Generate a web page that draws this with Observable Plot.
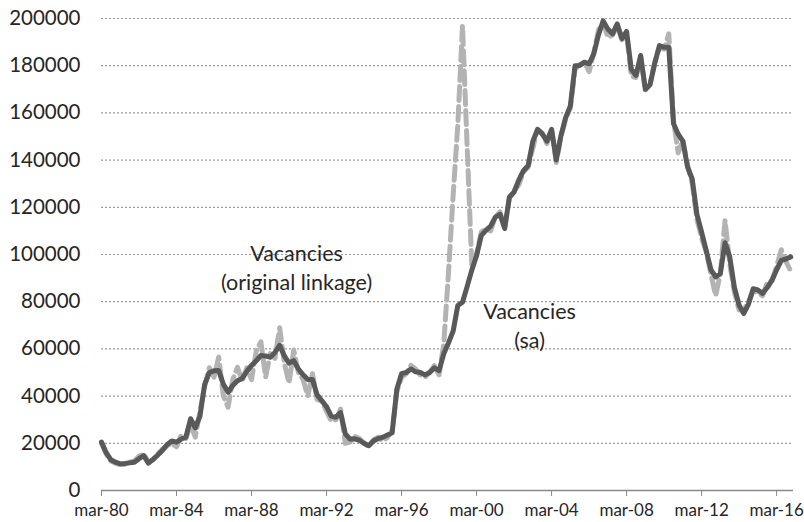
<!DOCTYPE html>
<html><head><meta charset="utf-8">
<script src="https://cdn.jsdelivr.net/npm/d3@7"></script>
<script src="https://cdn.jsdelivr.net/npm/@observablehq/plot@0.6"></script>
<style>
body{margin:0;background:#fff;}
#chart{width:804px;height:522px;overflow:hidden;}
</style>
</head><body><div id="chart"></div>
<script>
// Quarterly observations, starting March 1980 (index 0) through Dec 2016
const vacanciesSA = [
  20500,16000,13000,12000,11300,11400,11700,12000,13500,14800,
  11600,13200,15000,17000,19500,21000,20500,21800,22600,30400,
  26500,31500,45000,50000,50700,50800,45000,41600,44500,46500,
  47500,50500,53000,55000,57200,57000,56500,58500,61500,57000,
  54000,55000,51500,49000,47000,47000,40500,38000,35500,31500,
  31000,33000,24000,21800,21900,21300,20000,19000,21000,22000,
  22600,23500,24500,43000,49500,50000,51500,50300,50000,49000,
  50000,52000,50800,57900,62500,67500,78400,79800,86500,93500,
  99500,108000,110200,112000,115800,117000,111000,124300,126500,131500,
  135500,137700,148000,153000,151100,148000,153000,140000,150400,158000,
  163000,180000,180100,181500,180800,185000,193000,199000,195500,193500,
  197700,191500,194500,178500,175900,184300,170000,172000,181000,188500,
  187800,187800,155500,151000,148000,137000,132000,117000,109500,101500,
  93500,90500,92000,105000,99000,86000,78500,75000,79000,85500,
  85000,83500,86000,89000,93500,97500,98100,99000
];
const vacanciesOriginal = [
  20000,15500,12500,11500,11000,11000,12000,12500,14500,15500,
  12000,13000,15500,17500,19000,20000,18500,23500,22000,28000,
  22600,33500,44000,52000,48000,56500,40000,35300,47000,52200,
  46600,52000,47000,59000,63000,48000,58000,56000,69000,54000,
  45500,59500,50000,47000,40000,49500,38500,38000,33500,29500,
  30000,34500,20000,20500,23000,22000,20000,18500,21500,22500,
  21000,22500,25500,42000,48000,49500,53000,51500,49000,48000,
  50000,53000,49000,62000,92000,125000,155000,197000,145000,95000,
  100000,109500,111000,110000,116000,118000,111500,124000,127000,129500,
  135000,137000,145000,153000,151500,147000,153000,139000,150000,157500,
  162000,178500,180500,181500,177500,185500,195000,198500,192000,193000,
  197000,191000,193500,175500,175000,184000,169500,172000,181500,187500,
  187000,193500,157000,143000,148500,138000,130000,115000,107000,101000,
  91500,82500,92000,114500,96000,84000,76500,76500,80000,84500,
  84000,82500,88000,89000,95000,102000,97000,93000
];
const xTickLabels = ["mar-80","mar-84","mar-88","mar-92","mar-96","mar-00","mar-04","mar-08","mar-12","mar-16"];
const quartersPerTick = 16;
const yTicks = [0,20000,40000,60000,80000,100000,120000,140000,160000,180000,200000];
const annotationText = ["Vacancies\n(original linkage)", "Vacancies\n(sa)"];
const annotationQuarter = [41.6, 91.3];
const annotationValue = [95000, 70500];

const rows = vacanciesSA.map((v, i) => ({q: i, v}));
const rowsOrig = vacanciesOriginal.map((v, i) => ({q: i, v}));
const annotations = annotationText.map((t, k) => ({t, q: annotationQuarter[k], v: annotationValue[k]}));
const xTicks = xTickLabels.map((_, k) => k * quartersPerTick);

const font = "Lato, 'Open Sans', sans-serif";
const chart = Plot.plot({
  width: 804,
  height: 522,
  marginLeft: 101,
  marginRight: 11,
  marginTop: 18,
  marginBottom: 32,
  style: {fontFamily: font, background: "#fff", color: "#262626"},
  x: {type: "linear", domain: [0, 147.6]},
  y: {domain: [0, 200000]},
  marks: [
    Plot.gridY(yTicks.filter(d => d > 0), {stroke: "#9a9a9a", strokeOpacity: 1, strokeWidth: 1.2, strokeDasharray: "2,2"}),
    Plot.axisY({ticks: yTicks, tickSize: 0, tickPadding: 21, fontSize: 20.5, tickFormat: d => String(d), label: null}),
    Plot.axisX({ticks: xTicks, tickSize: 6, tickPadding: 7, fontSize: 17, tickFormat: d => xTickLabels[d / quartersPerTick], label: null, stroke: "#888"}),
    Plot.ruleY([0], {stroke: "#888", strokeWidth: 1.5}),
    Plot.line(rowsOrig, {x: "q", y: "v", stroke: "#b3b3b3", strokeWidth: 5, strokeDasharray: "14,6", strokeLinejoin: "round"}),
    Plot.line(rows, {x: "q", y: "v", stroke: "#595959", strokeWidth: 5, strokeLinejoin: "round", strokeLinecap: "round"}),
    Plot.text(annotations, {x: "q", y: "v", text: "t", fontSize: 21.5, lineHeight: 1.33, fill: "#262626", textAnchor: "middle", lineAnchor: "middle"})
  ]
});
document.getElementById("chart").appendChild(chart);
</script>
</body></html>
